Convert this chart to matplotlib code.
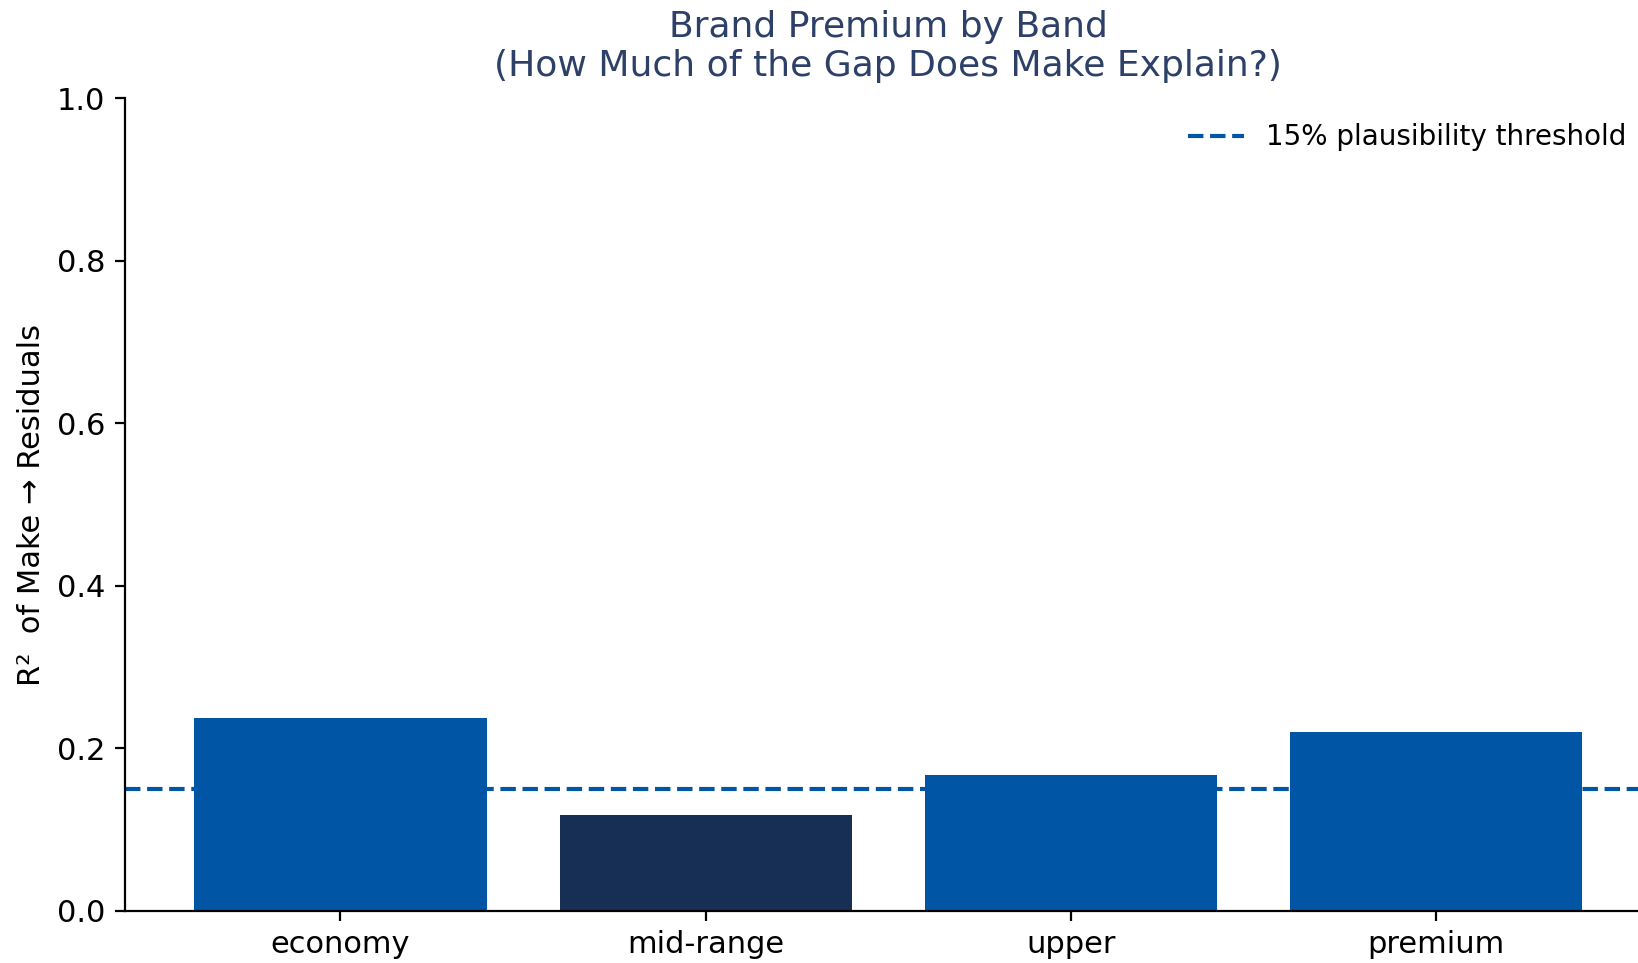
import matplotlib
matplotlib.use("Agg")
import matplotlib.pyplot as plt

#Values
bands = ["economy", "mid-range", "upper", "premium"]
r2_values = [0.238, 0.118, 0.167, 0.220]
threshold = 0.15
bar_colors = ["#0055a4", "#172e55", "#0055a4", "#0055a4"]

fig = plt.figure(figsize=(8.19, 4.815), dpi=200)
ax = fig.add_axes([0.0763, 0.054, 0.932, 0.844])

ax.bar(bands, r2_values, width=0.8, color=bar_colors)
ax.axhline(threshold, color="#0055a4", linestyle="--", linewidth=1.5,
           label="15% plausibility threshold")

ax.set_ylim(0, 1.0)
ax.set_ylabel("R²  of Make → Residuals", fontsize=11)
ax.set_title("Brand Premium by Band\n(How Much of the Gap Does Make Explain?)",
             fontsize=13, color="#2d4068", pad=8)
ax.tick_params(labelsize=11)
ax.spines["top"].set_visible(False)
ax.spines["right"].set_visible(False)
ax.legend(loc="upper right", frameon=False, fontsize=10)

fig.savefig("out.png", dpi=200)
